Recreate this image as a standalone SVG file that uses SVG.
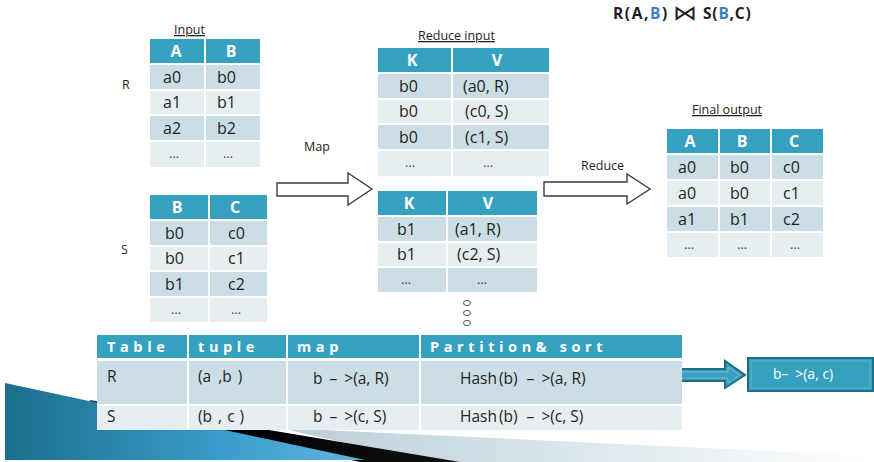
<svg xmlns="http://www.w3.org/2000/svg" width="874" height="462" viewBox="0 0 874 462">
  <defs>
    <linearGradient id="swooshBlue" x1="0" y1="0" x2="1" y2="0">
      <stop offset="0" stop-color="#1b6f8c"/>
      <stop offset="0.6" stop-color="#3a9ccb"/>
      <stop offset="1" stop-color="#5fb6de"/>
    </linearGradient>
    <linearGradient id="swooshLight" x1="0" y1="0" x2="1" y2="0">
      <stop offset="0" stop-color="#b9ced8"/>
      <stop offset="1" stop-color="#ffffff"/>
    </linearGradient>
    <linearGradient id="swooshDark" x1="0" y1="0" x2="1" y2="0">
      <stop offset="0" stop-color="#2b3a40"/>
      <stop offset="0.4" stop-color="#000000"/>
      <stop offset="1" stop-color="#111111"/>
    </linearGradient>
  </defs>
  <style>
    text { font-family: "Open Sans", "Noto Sans", "DejaVu Sans", sans-serif; fill: #1e1e1e; }
    .hd { fill: #35a1bf; }
    .r1 { fill: #ccdee5; }
    .r2 { fill: #e7eef1; }
    .grid { stroke: #ffffff; stroke-width: 2; }
    .th { fill: #ffffff; font-weight: bold; font-size: 16px; text-anchor: middle; }
    .td { font-size: 16px; }
    .dots { font-size: 13px; text-anchor: middle; fill: #444; }
    .lbl { font-size: 12.5px; }
    .cap { font-size: 12.5px; text-decoration: underline; }
    .bth { fill: #ffffff; font-weight: bold; font-size: 14.5px; letter-spacing: 4.6px; }
    .btd { font-size: 15.5px; }
    .block { fill: #ffffff; stroke: #3c3c3c; stroke-width: 1.4; }
  </style>

  <!-- background ribbon, lower left -->
  <g id="ribbon">
    <polygon points="280,428 874,456 874,462 430,462" fill="url(#swooshLight)"/>
    <polygon points="90,400 460,462 360,462 90,403" fill="url(#swooshDark)"/>
    <polygon points="5,383 365,460 5,460" fill="url(#swooshBlue)"/>
  </g>

  <!-- join expression -->
  <g id="title">
    <text x="613" y="19" font-size="15.5" font-weight="bold" letter-spacing="1.6">R(A,<tspan fill="#3b7fc3">B</tspan>)</text>
    <text transform="translate(673,19.5) scale(1.6,1.4)" x="0" y="0" font-size="15" font-family="DejaVu Sans, sans-serif" fill="#222">⋈</text>
    <text x="703" y="19" font-size="15.5" font-weight="bold" letter-spacing="0.8">S(<tspan fill="#3b7fc3">B</tspan>,C)</text>
  </g>

  <!-- relation R -->
  <g id="table-r">
    <text class="cap" x="174" y="34">Input</text>
    <text class="lbl" x="122" y="89">R</text>
    <rect class="hd" x="150" y="39" width="110" height="24"/>
    <rect class="r1" x="150" y="65" width="110" height="25"/>
    <rect class="r2" x="150" y="90" width="110" height="25"/>
    <rect class="r1" x="150" y="115" width="110" height="26"/>
    <rect class="r2" x="150" y="141" width="110" height="26"/>
    <line class="grid" x1="205" y1="39" x2="205" y2="167"/>
    <line class="grid" x1="150" y1="90" x2="260" y2="90"/>
    <line class="grid" x1="150" y1="115" x2="260" y2="115"/>
    <line class="grid" x1="150" y1="141" x2="260" y2="141"/>
    <text class="th" x="176" y="57">A</text>
    <text class="th" x="231" y="57">B</text>
    <text class="td" x="163" y="83">a0</text><text class="td" x="217" y="83">b0</text>
    <text class="td" x="163" y="108">a1</text><text class="td" x="217" y="108">b1</text>
    <text class="td" x="163" y="134">a2</text><text class="td" x="217" y="134">b2</text>
    <text class="dots" x="174" y="158">…</text><text class="dots" x="228" y="158">…</text>
  </g>

  <!-- relation S -->
  <g id="table-s">
    <text class="lbl" x="121" y="254">S</text>
    <rect class="hd" x="150" y="195" width="117" height="24"/>
    <rect class="r1" x="150" y="221" width="117" height="25"/>
    <rect class="r2" x="150" y="246" width="117" height="25"/>
    <rect class="r1" x="150" y="271" width="117" height="26"/>
    <rect class="r2" x="150" y="297" width="117" height="25"/>
    <line class="grid" x1="209" y1="195" x2="209" y2="322"/>
    <line class="grid" x1="150" y1="246" x2="267" y2="246"/>
    <line class="grid" x1="150" y1="271" x2="267" y2="271"/>
    <line class="grid" x1="150" y1="297" x2="267" y2="297"/>
    <text class="th" x="177" y="213">B</text>
    <text class="th" x="235" y="213">C</text>
    <text class="td" x="165" y="239">b0</text><text class="td" x="228" y="239">c0</text>
    <text class="td" x="165" y="264">b0</text><text class="td" x="228" y="264">c1</text>
    <text class="td" x="165" y="290">b1</text><text class="td" x="228" y="290">c2</text>
    <text class="dots" x="176" y="314">…</text><text class="dots" x="236" y="314">…</text>
  </g>

  <!-- reduce input, key b0 -->
  <g id="reduce-b0">
    <text class="cap" x="418" y="40">Reduce input</text>
    <rect class="hd" x="378" y="48" width="171" height="24"/>
    <rect class="r1" x="378" y="74" width="171" height="25"/>
    <rect class="r2" x="378" y="99" width="171" height="25"/>
    <rect class="r1" x="378" y="124" width="171" height="26"/>
    <rect class="r2" x="378" y="150" width="171" height="26"/>
    <line class="grid" x1="452" y1="48" x2="452" y2="176"/>
    <line class="grid" x1="378" y1="99" x2="549" y2="99"/>
    <line class="grid" x1="378" y1="124" x2="549" y2="124"/>
    <line class="grid" x1="378" y1="150" x2="549" y2="150"/>
    <text class="th" x="412" y="66">K</text>
    <text class="th" x="497" y="66">V</text>
    <text class="td" x="399" y="92">b0</text><text class="td" x="463" y="92">(a0, R)</text>
    <text class="td" x="399" y="117">b0</text><text class="td" x="465" y="117">(c0, S)</text>
    <text class="td" x="399" y="143">b0</text><text class="td" x="465" y="143">(c1, S)</text>
    <text class="dots" x="410" y="167">…</text><text class="dots" x="488" y="167">…</text>
  </g>

  <!-- reduce input, key b1 -->
  <g id="reduce-b1">
    <rect class="hd" x="378" y="191" width="159" height="24"/>
    <rect class="r1" x="378" y="217" width="159" height="25"/>
    <rect class="r2" x="378" y="242" width="159" height="25"/>
    <rect class="r1" x="378" y="267" width="159" height="25"/>
    <line class="grid" x1="447" y1="191" x2="447" y2="292"/>
    <line class="grid" x1="378" y1="242" x2="537" y2="242"/>
    <line class="grid" x1="378" y1="267" x2="537" y2="267"/>
    <text class="th" x="409" y="209">K</text>
    <text class="th" x="488" y="209">V</text>
    <text class="td" x="397" y="235">b1</text><text class="td" x="455" y="235">(a1, R)</text>
    <text class="td" x="397" y="260">b1</text><text class="td" x="457" y="260">(c2, S)</text>
    <text class="dots" x="406" y="284">…</text><text class="dots" x="482" y="284">…</text>
    <g fill="none" stroke="#555" stroke-width="1">
      <ellipse cx="467" cy="303" rx="3.5" ry="2.6"/>
      <ellipse cx="467" cy="313" rx="3.5" ry="2.6"/>
      <ellipse cx="467" cy="323" rx="3.5" ry="2.6"/>
    </g>
  </g>

  <!-- final output -->
  <g id="final-output">
    <text class="cap" x="692" y="114">Final output</text>
    <rect class="hd" x="667" y="129" width="156" height="24"/>
    <rect class="r1" x="667" y="155" width="156" height="25"/>
    <rect class="r2" x="667" y="180" width="156" height="26"/>
    <rect class="r1" x="667" y="206" width="156" height="26"/>
    <rect class="r2" x="667" y="232" width="156" height="25"/>
    <line class="grid" x1="719" y1="129" x2="719" y2="257"/>
    <line class="grid" x1="771" y1="129" x2="771" y2="257"/>
    <line class="grid" x1="667" y1="180" x2="823" y2="180"/>
    <line class="grid" x1="667" y1="206" x2="823" y2="206"/>
    <line class="grid" x1="667" y1="232" x2="823" y2="232"/>
    <text class="th" x="690" y="147">A</text>
    <text class="th" x="742" y="147">B</text>
    <text class="th" x="794" y="147">C</text>
    <text class="td" x="678" y="173">a0</text><text class="td" x="730" y="173">b0</text><text class="td" x="783" y="173">c0</text>
    <text class="td" x="678" y="199">a0</text><text class="td" x="730" y="199">b0</text><text class="td" x="783" y="199">c1</text>
    <text class="td" x="678" y="225">a1</text><text class="td" x="730" y="225">b1</text><text class="td" x="783" y="225">c2</text>
    <text class="dots" x="689" y="249">…</text><text class="dots" x="742" y="249">…</text><text class="dots" x="795" y="249">…</text>
  </g>

  <!-- phase arrows -->
  <g id="connectors">
    <text class="lbl" x="304" y="151">Map</text>
    <polygon class="block" points="277,183 348,183 348,173 372,189 348,205 348,196 277,196"/>
    <text class="lbl" x="581" y="170">Reduce</text>
    <polygon class="block" points="544,182 627,182 627,174 650,189 627,204 627,196 544,196"/>
    <polygon points="679,369 725,369 725,361 745,375 725,388 725,381 679,381" fill="#3a9fbf" stroke="#1d6d85" stroke-width="2"/>
    <polyline points="681,372 728,372 728,367 740,375 728,383 728,378 681,378" fill="none" stroke="#7fc3d8" stroke-width="0.8"/>
  </g>

  <!-- summary table -->
  <g id="summary-table">
    <rect class="hd" x="97" y="335" width="585" height="23"/>
    <rect class="r1" x="97" y="361" width="585" height="44"/>
    <rect class="r2" x="97" y="405" width="585" height="25"/>
    <line class="grid" x1="188" y1="335" x2="188" y2="430"/>
    <line class="grid" x1="287" y1="335" x2="287" y2="430"/>
    <line class="grid" x1="420" y1="335" x2="420" y2="430"/>
    <line class="grid" x1="97" y1="359.5" x2="682" y2="359.5"/>
    <line class="grid" x1="97" y1="405" x2="682" y2="405"/>
    <text class="bth" x="107" y="352">Table</text>
    <text class="bth" x="198" y="352">tuple</text>
    <text class="bth" x="297" y="352">map</text>
    <text class="bth" x="430" y="352">Partition&amp; sort</text>
    <text class="btd" x="107" y="382">R</text>
    <text class="btd" x="198" y="382">(a<tspan dx="3"> ,b</tspan><tspan dx="2"> )</tspan></text>
    <text class="btd" x="313" y="384">b<tspan dx="3"> –</tspan><tspan dx="3"> &gt;(a, R)</tspan></text>
    <text class="btd" x="460" y="384">Hash<tspan dx="2">(b)</tspan><tspan dx="5"> –</tspan><tspan dx="3"> &gt;(a, R)</tspan></text>
    <text class="btd" x="107" y="422">S</text>
    <text class="btd" x="198" y="422">(b<tspan dx="2"> ,</tspan><tspan dx="1"> c</tspan><tspan dx="1"> )</tspan></text>
    <text class="btd" x="313" y="422">b<tspan dx="3"> –</tspan><tspan dx="3"> &gt;(c, S)</tspan></text>
    <text class="btd" x="460" y="422">Hash<tspan dx="2">(b)</tspan><tspan dx="5"> –</tspan><tspan dx="3"> &gt;(c, S)</tspan></text>
  </g>

  <!-- result key/value box -->
  <g id="result-box">
    <rect x="748" y="358" width="125" height="33" fill="#35a1bf" stroke="#1c6f87" stroke-width="2"/>
    <rect x="751" y="361" width="119" height="27" fill="none" stroke="#6cbad2" stroke-width="0.8"/>
    <text x="773" y="379" font-size="14" style="fill:#ffffff">b–<tspan dx="3"> &gt;(a, c)</tspan></text>
  </g>
</svg>
